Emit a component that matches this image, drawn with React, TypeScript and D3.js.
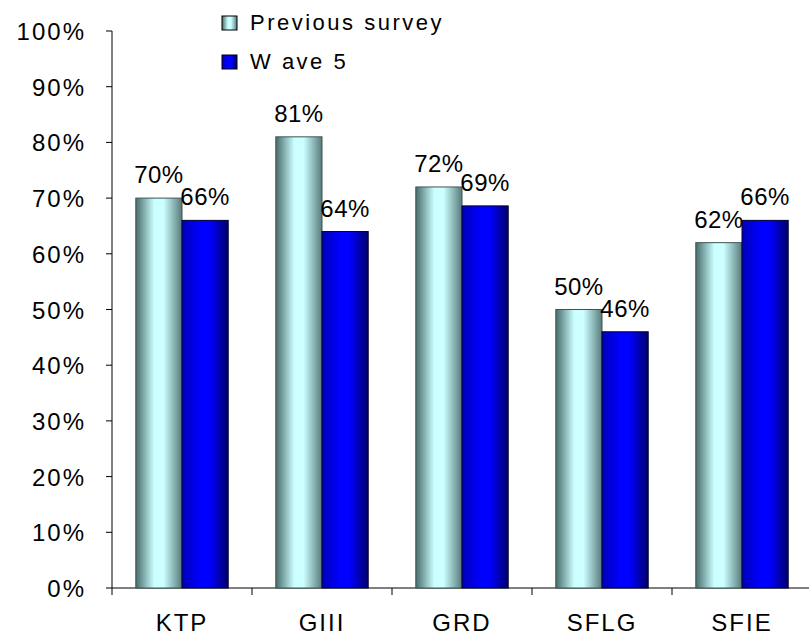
import { useEffect, useRef } from "react"
import * as d3 from "d3"

const categories = ["KTP", "GIII", "GRD", "SFLG", "SFIE"]
const previousSurvey = [0.70, 0.81, 0.72, 0.50, 0.62]
const wave5 = [0.66, 0.64, 0.686, 0.46, 0.66]
const seriesNames = ["Previous survey", "W ave 5"]
const yTicks = [0, 0.1, 0.2, 0.3, 0.4, 0.5, 0.6, 0.7, 0.8, 0.9, 1.0]

export default function App() {
  const svgRef = useRef<SVGSVGElement>(null)

  useEffect(() => {
    if (!svgRef.current) return
    const svg = d3.select(svgRef.current)
    svg.selectAll("*").remove()

    const width = 809
    const height = 638
    const margin = { top: 31, right: -3, bottom: 50, left: 112 }
    const innerWidth = width - margin.left - margin.right
    const innerHeight = height - margin.top - margin.bottom
    const font = "'Liberation Sans', Arial, sans-serif"

    const defs = svg.append("defs")
    const g1 = defs.append("linearGradient").attr("id", "gradPrev").attr("x1", "0%").attr("x2", "100%")
    g1.append("stop").attr("offset", "0%").attr("stop-color", "#476b6b")
    g1.append("stop").attr("offset", "40%").attr("stop-color", "#ccffff")
    g1.append("stop").attr("offset", "60%").attr("stop-color", "#ccffff")
    g1.append("stop").attr("offset", "100%").attr("stop-color", "#587a7a")
    const g2 = defs.append("linearGradient").attr("id", "gradWave").attr("x1", "0%").attr("x2", "100%")
    g2.append("stop").attr("offset", "0%").attr("stop-color", "#0000b8")
    g2.append("stop").attr("offset", "40%").attr("stop-color", "#0000ff")
    g2.append("stop").attr("offset", "60%").attr("stop-color", "#0000ff")
    g2.append("stop").attr("offset", "100%").attr("stop-color", "#00006a")

    const x = d3.scaleBand().domain(categories).range([0, innerWidth]).paddingInner(0).paddingOuter(0)
    const y = d3.scaleLinear().domain([0, 1]).range([innerHeight, 0])
    const barW = x.bandwidth() * 0.33

    const g = svg.append("g").attr("transform", `translate(${margin.left},${margin.top})`)

    // y axis
    g.append("line").attr("x1", 0).attr("x2", 0).attr("y1", 0).attr("y2", innerHeight).attr("stroke", "#000")
    yTicks.forEach((t) => {
      g.append("line").attr("x1", -6).attr("x2", 0).attr("y1", y(t)).attr("y2", y(t)).attr("stroke", "#000")
      g.append("text")
        .attr("x", -26)
        .attr("y", y(t) + 9)
        .attr("text-anchor", "end")
        .attr("font-family", font)
        .attr("font-size", 24)
        .attr("letter-spacing", 2)
        .text(d3.format(".0%")(t))
    })

    // x axis
    g.append("line").attr("x1", 0).attr("x2", innerWidth).attr("y1", innerHeight).attr("y2", innerHeight).attr("stroke", "#000")
    categories.forEach((c) => {
      g.append("line").attr("x1", x(c)!).attr("x2", x(c)!).attr("y1", innerHeight).attr("y2", innerHeight + 7).attr("stroke", "#000")
      g.append("text")
        .attr("x", x(c)! + x.bandwidth() / 2)
        .attr("y", innerHeight + 43)
        .attr("text-anchor", "middle")
        .attr("font-family", font)
        .attr("font-size", 24)
        .attr("letter-spacing", 2)
        .text(c)
    })

    const series = [
      { values: previousSurvey, fill: "url(#gradPrev)", stroke: "#3d5555", off: -barW },
      { values: wave5, fill: "url(#gradWave)", stroke: "#000030", off: 0 },
    ]
    series.forEach((s) => {
      g.selectAll(null)
        .data(s.values)
        .enter()
        .append("rect")
        .attr("x", (_, i) => x(categories[i])! + x.bandwidth() / 2 + s.off)
        .attr("y", (d) => y(d))
        .attr("width", barW)
        .attr("height", (d) => innerHeight - y(d))
        .attr("fill", s.fill)
        .attr("stroke", s.stroke)
        .attr("stroke-width", 1)

      g.selectAll(null)
        .data(s.values)
        .enter()
        .append("text")
        .attr("x", (_, i) => x(categories[i])! + x.bandwidth() / 2 + s.off + barW / 2)
        .attr("y", (d) => y(d) - 15)
        .attr("text-anchor", "middle")
        .attr("font-family", font)
        .attr("font-size", 24)
        .attr("letter-spacing", 0.5)
        .text((d) => Math.round(d * 100) + "%")
    })

    // legend
    const legend = svg.append("g").attr("transform", "translate(222,16)")
    const fills = ["url(#gradPrev)", "url(#gradWave)"]
    seriesNames.forEach((n, i) => {
      const lg = legend.append("g").attr("transform", `translate(0,${i * 39})`)
      lg.append("rect").attr("width", 15).attr("height", 14).attr("fill", fills[i]).attr("stroke", "#000")
      lg.append("text")
        .attr("x", 28)
        .attr("y", 14)
        .attr("font-family", font)
        .attr("font-size", 22)
        .attr("letter-spacing", 2.5)
        .text(n)
    })
  }, [])

  return (
    <svg
      ref={svgRef}
      width={809}
      height={638}
      style={{ position: "absolute", top: 0, left: 0, display: "block" }}
    ></svg>
  )
}
